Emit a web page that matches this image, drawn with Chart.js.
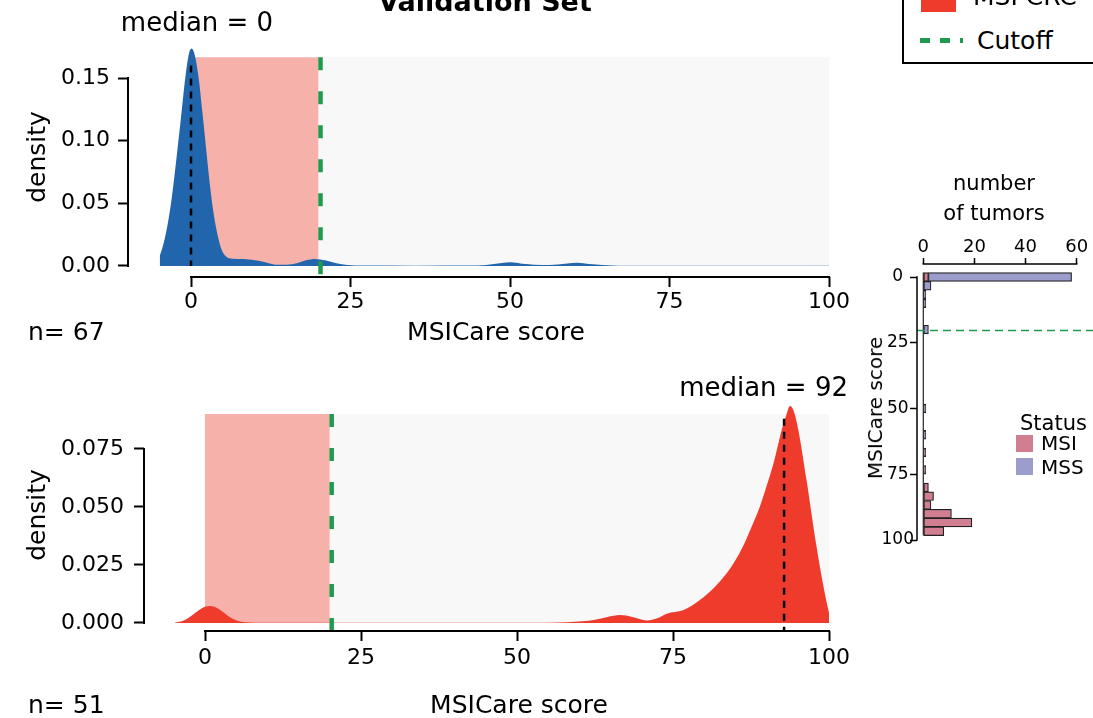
<!DOCTYPE html>
<html>
<head>
<meta charset="utf-8">
<script src="https://cdn.jsdelivr.net/npm/chart.js@4.4.1/dist/chart.umd.min.js"></script>
<style>
  html, body { margin: 0; padding: 0; background: #fff; }
  body { width: 1093px; height: 718px; position: relative; overflow: hidden; font-family: 'DejaVu Sans', sans-serif; color: #000; }
  canvas { position: absolute; }
  .t { position: absolute; white-space: nowrap; line-height: 1; }
  .c { transform: translate(-50%, -50%); }
  .l { transform: translate(0, -50%); }
  .r { transform: translate(-100%, -50%); }
  .rot { transform: translate(-50%, -50%) rotate(-90deg); }
  .sq { position: absolute; }
</style>
</head>
<body>
<canvas id="mssChart" width="860" height="320" style="left:0;top:0;width:860px;height:320px"></canvas>
<canvas id="msiChart" width="860" height="378" style="left:0;top:340px;width:860px;height:378px"></canvas>
<canvas id="histChart" width="253" height="410" style="left:840px;top:150px;width:253px;height:410px"></canvas>

<div class="t c" style="left:485px;top:1px;font-size:27px;font-weight:bold">Validation Set</div>

<div style="position:absolute;left:902px;top:-40px;width:260px;height:104px;box-sizing:border-box;border:2px solid #000;background:#fff"></div>
<div class="sq" style="left:921px;top:-23px;width:35px;height:35px;background:#ef3b2c"></div>
<div class="t l" style="left:973px;top:-4px;font-size:25px">MSI CRC</div>
<div class="sq" style="left:920px;top:38px;width:43px;height:5px;background:repeating-linear-gradient(90deg,#1f9a4f 0 10px,transparent 10px 20px)"></div>
<div class="t l" style="left:977px;top:40px;font-size:25px">Cutoff</div>

<div class="t c" style="left:197px;top:22px;font-size:26px">median = 0</div>
<div class="t rot" style="left:36px;top:157px;font-size:25px">density</div>
<div class="t l" style="left:28px;top:331px;font-size:25px">n= 67</div>
<div class="t c" style="left:496px;top:331px;font-size:25px">MSICare score</div>

<div class="t r" style="left:848px;top:387px;font-size:26px">median = 92</div>
<div class="t rot" style="left:36px;top:515px;font-size:25px">density</div>
<div class="t l" style="left:28px;top:704px;font-size:25px">n= 51</div>
<div class="t c" style="left:519px;top:704px;font-size:25px">MSICare score</div>

<div class="t c" style="left:994px;top:183px;font-size:21px">number</div>
<div class="t c" style="left:994px;top:213px;font-size:21px">of tumors</div>
<div class="t rot" style="left:875px;top:408px;font-size:20px">MSICare score</div>
<div class="t l" style="left:1020px;top:423px;font-size:21px">Status</div>
<div class="sq" style="left:1016px;top:435px;width:17px;height:17px;background:#d07e90"></div>
<div class="t l" style="left:1041px;top:443px;font-size:20px">MSI</div>
<div class="sq" style="left:1016px;top:458px;width:17px;height:17px;background:#9c9dcd"></div>
<div class="t l" style="left:1041px;top:467px;font-size:20px">MSS</div>

<script>
// density of MSICare score, MSS tumours (top panel)
const mssScore = [-4.9, -4.3, -3.6, -3, -2.3, -1.6, -0.9, -0.3, 0.1, 0.6, 1.2, 1.8, 2.4, 3.0, 3.6, 4.2, 4.8, 5.5, 6.5, 8.2, 10.8, 12.2, 13.5, 15.0, 16.6, 18.0, 19.5, 21.0, 22.8, 24.5, 27, 35, 45, 47.5, 50, 52.5, 55, 57.5, 60.5, 63, 66, 68, 70, 85, 100];
const mssDensity = [0.008, 0.018, 0.035, 0.055, 0.085, 0.117, 0.150, 0.170, 0.1735, 0.168, 0.150, 0.122, 0.092, 0.063, 0.040, 0.024, 0.013, 0.0075, 0.0058, 0.0055, 0.0040, 0.0022, 0.0009, 0.0010, 0.0022, 0.0045, 0.0056, 0.0045, 0.0022, 0.0008, 0.0003, 0.0002, 0.0003, 0.0015, 0.0030, 0.0015, 0.0007, 0.0012, 0.0026, 0.0013, 0.0004, 0.0002, 0.0002, 0.0002, 0.0002];

// density of MSICare score, MSI tumours (bottom panel)
const msiScore = [-4.8, -3.5, -2.5, -1.5, -0.5, 0.8, 2.0, 3.0, 4.0, 5.2, 6.7, 9, 30, 55, 58, 60.5, 62.5, 64.5, 66.5, 68.5, 70.8, 72.5, 74, 76.7, 79.3, 81.5, 83.6, 85.0, 86.3, 87.6, 88.9, 90.0, 91.1, 92.4, 93.2, 93.75, 94.4, 95.1, 96.4, 98.0, 99.1, 100];
const msiDensity = [0.0002, 0.001, 0.0025, 0.0045, 0.0064, 0.0073, 0.0064, 0.0045, 0.0025, 0.0010, 0.0003, 0.0001, 0.0001, 0.0001, 0.0003, 0.0007, 0.0014, 0.0026, 0.0034, 0.0026, 0.0011, 0.0020, 0.0040, 0.0056, 0.0099, 0.015, 0.0214, 0.027, 0.0335, 0.0415, 0.050, 0.059, 0.0688, 0.083, 0.090, 0.0935, 0.091, 0.083, 0.0616, 0.033, 0.016, 0.0043];

const cutoff = 20.3;
const mssMedian = 0;
const msiMedian = 92.8;
const msiBand = [0, 20];
const mssBand = [20, 100];

const scoreTicks = [0, 25, 50, 75, 100];
const mssDensityTicks = [0, 0.05, 0.10, 0.15];
const msiDensityTicks = [0, 0.025, 0.05, 0.075];

// histogram (number of tumours per score bin)
const binCenters = [0, 3.33, 6.67, 10, 13.33, 16.67, 20, 23.33, 26.67, 30, 33.33, 36.67, 40, 43.33, 46.67, 50, 53.33, 56.67, 60, 63.33, 66.67, 70, 73.33, 76.67, 80, 83.33, 86.67, 90, 93.33, 96.67];
const msiCounts = [2, 0, 0, 0, 0, 0, 0, 0, 0, 0, 0, 0, 0, 0, 0, 0, 0, 0, 0, 0, 1, 0, 1, 0, 2, 4, 3, 11, 19, 8];
const mssCounts = [56, 3, 1, 1, 0, 0, 2, 0, 0, 0, 0, 0, 0, 0, 0, 1, 0, 0, 1, 0, 0, 0, 0, 0, 0, 0, 0, 0, 0, 0];
const countTicks = [0, 20, 40, 60];
const scoreTicksHist = [0, 25, 50, 75, 100];

Chart.defaults.font.family = 'DejaVu Sans';
Chart.defaults.color = '#000';
Chart.defaults.animation = false;
Chart.defaults.events = [];
Chart.defaults.plugins.legend.display = false;
Chart.defaults.plugins.tooltip.enabled = false;

// axis lines that only span first..last tick
const spines = {
  id: 'spines',
  afterDatasetsDraw(chart, args, opts) {
    const ctx = chart.ctx;
    const area = chart.chartArea;
    ctx.save();
    ctx.strokeStyle = '#000';
    ctx.lineWidth = opts.width || 2;
    ['x', 'y'].forEach(id => {
      const s = chart.scales[id];
      const a = s.getPixelForValue(s.ticks[0].value);
      const b = s.getPixelForValue(s.ticks[s.ticks.length - 1].value);
      const half = ctx.lineWidth / 2;
      ctx.beginPath();
      if (s.isHorizontal()) {
        const y = s.position === 'top' ? area.top : area.bottom;
        ctx.moveTo(Math.min(a, b) - half, y);
        ctx.lineTo(Math.max(a, b) + half, y);
      } else {
        ctx.moveTo(area.left, Math.min(a, b) - half);
        ctx.lineTo(area.left, Math.max(a, b) + half);
      }
      ctx.stroke();
    });
    ctx.restore();
  }
};

function tickGrid(len, w) {
  return { display: true, drawOnChartArea: false, drawTicks: true, tickLength: len, tickWidth: w, tickColor: '#000' };
}

function densityChart(id, o) {
  return new Chart(document.getElementById(id), {
    type: 'line',
    data: {
      datasets: [
        { data: [{ x: cutoff, y: o.bandTop }, { x: cutoff, y: o.yMin }],
          borderColor: '#1f9a4f', borderWidth: 4.5, borderDash: [13, 21], pointRadius: 0, fill: false, tension: 0, order: 0 },
        { data: [{ x: o.median, y: o.medTop }, { x: o.median, y: o.medBottom }],
          borderColor: '#000', borderWidth: 2.5, borderDash: [7, 6], pointRadius: 0, fill: false, tension: 0, order: 1 },
        { data: o.xs.map((x, i) => ({ x: x, y: o.ds[i] })),
          backgroundColor: o.color, borderColor: 'transparent', borderWidth: 0, pointRadius: 0,
          fill: 'origin', cubicInterpolationMode: 'monotone', order: 2 },
        { data: [{ x: msiBand[0], y: o.bandTop }, { x: msiBand[1], y: o.bandTop }],
          backgroundColor: '#f6b1ab', borderColor: 'transparent', borderWidth: 0, pointRadius: 0, fill: 'origin', tension: 0, order: 3 },
        { data: [{ x: mssBand[0], y: o.bandTop }, { x: mssBand[1], y: o.bandTop }],
          backgroundColor: '#f8f8f8', borderColor: 'transparent', borderWidth: 0, pointRadius: 0, fill: 'origin', tension: 0, order: 3 }
      ]
    },
    options: {
      responsive: false,
      layout: { padding: o.padding },
      scales: {
        x: {
          type: 'linear', bounds: 'data', min: o.xMin, max: 100,
          afterBuildTicks: ax => { ax.ticks = scoreTicks.map(v => ({ value: v })); },
          afterFit: ax => { ax.height = o.xHeight; },
          grid: tickGrid(10, 2),
          border: { display: false },
          ticks: { autoSkip: false, maxRotation: 0, padding: o.xPad, font: { size: 22 } }
        },
        y: {
          type: 'linear', bounds: 'data', min: o.yMin, max: o.yMax,
          afterBuildTicks: ax => { ax.ticks = o.yTicks.map(v => ({ value: v })); },
          afterFit: ax => { ax.width = o.yWidth; },
          grid: tickGrid(10, 2),
          border: { display: false },
          ticks: { autoSkip: false, padding: o.yPad, font: { size: 22 }, callback: v => v.toFixed(o.digits) }
        }
      }
    },
    plugins: [spines]
  });
}

densityChart('mssChart', {
  xs: mssScore, ds: mssDensity, color: '#2166ac', median: mssMedian,
  medTop: 0.16, medBottom: 0, bandTop: 0.1666,
  xMin: -9.875, yMin: -0.00878, yMax: 0.17713,
  yTicks: mssDensityTicks, digits: 2, yWidth: 128, xHeight: 43, xPad: 2, yPad: 8,
  padding: { left: 0, right: 31, top: 44, bottom: 0 }
});

densityChart('msiChart', {
  xs: msiScore, ds: msiDensity, color: '#ef3b2c', median: msiMedian,
  medTop: 0.088, medBottom: -0.00345, bandTop: 0.0901,
  xMin: -9.776, yMin: -0.00345, yMax: 0.09612,
  yTicks: msiDensityTicks, digits: 3, yWidth: 144, xHeight: 45, xPad: 4, yPad: 10,
  padding: { left: 0, right: 31, top: 60, bottom: 42 }
});

const binWidth = binCenters[1] - binCenters[0];
const histXMin = -2.464;

new Chart(document.getElementById('histChart'), {
  type: 'bar',
  data: {
    datasets: [
      { label: 'MSI', data: binCenters.map((c, i) => ({ x: msiCounts[i], y: c })),
        backgroundColor: '#d07e90', borderColor: '#222', borderWidth: 1.2, borderSkipped: false,
        barPercentage: 1, categoryPercentage: 1, stack: 'n', order: 2 },
      { label: 'MSS', data: binCenters.map((c, i) => ({ x: mssCounts[i], y: c })),
        backgroundColor: '#9c9dcd', borderColor: '#222', borderWidth: 1.2, borderSkipped: false,
        barPercentage: 1, categoryPercentage: 1, stack: 'n', order: 2 },
      { type: 'line', data: [{ x: histXMin, y: cutoff }, { x: 67, y: cutoff }],
        borderColor: '#1f9a4f', borderWidth: 1.5, borderDash: [8, 5], pointRadius: 0, fill: false,
        clip: false, stack: 'cut', order: 0 },
      { type: 'line', data: [{ x: 0, y: binCenters[0] - binWidth / 2 }, { x: 0, y: binCenters[binCenters.length - 1] + binWidth / 2 }],
        borderColor: '#222', borderWidth: 1.2, pointRadius: 0, fill: false, stack: 'zero', order: 1 }
    ]
  },
  options: {
    indexAxis: 'y',
    responsive: false,
    layout: { padding: { left: 0, right: 16.3, top: 0, bottom: 20 } },
    scales: {
      x: {
        type: 'linear', position: 'top', stacked: true, bounds: 'data', min: histXMin, max: 60,
        afterBuildTicks: ax => { ax.ticks = countTicks.map(v => ({ value: v })); },
        afterFit: ax => { ax.height = 114; },
        grid: tickGrid(6, 1.5),
        border: { display: false },
        ticks: { autoSkip: false, maxRotation: 0, padding: 0, font: { size: 18 } }
      },
      y: {
        type: 'linear', reverse: true, stacked: true, offset: false, bounds: 'data', min: -4.943, max: 100,
        afterBuildTicks: ax => { ax.ticks = scoreTicksHist.map(v => ({ value: v })); },
        afterFit: ax => { ax.width = 77; },
        grid: Object.assign(tickGrid(7, 1.5), { offset: false }),
        border: { display: false },
        ticks: { autoSkip: false, crossAlign: 'center', padding: -4, font: { size: 17 } }
      }
    },
    plugins: { spines: { width: 1.5 } }
  },
  plugins: [spines]
});
</script>
</body>
</html>
